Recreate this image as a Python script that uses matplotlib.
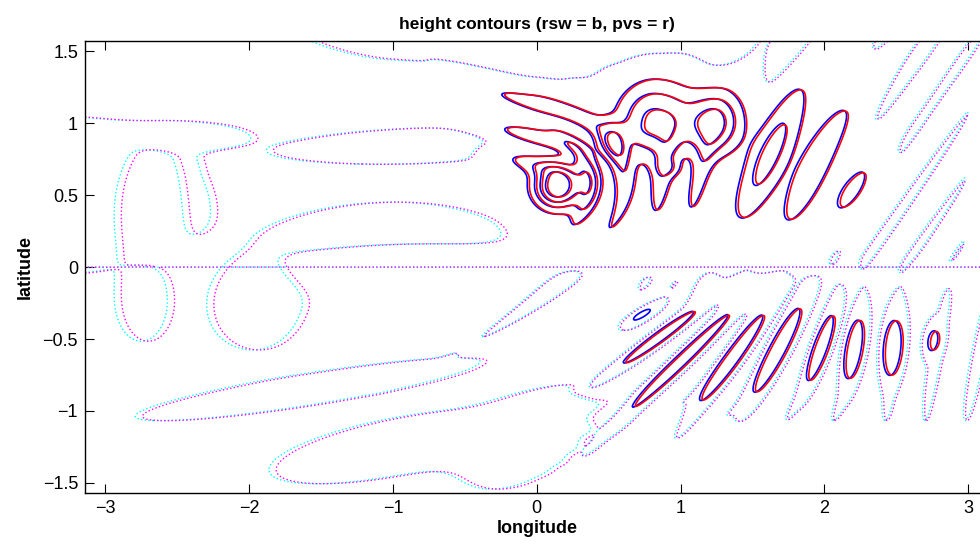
import numpy as np
import matplotlib
matplotlib.use("Agg")
import matplotlib.pyplot as plt

plt.rcParams['font.family'] = ['Liberation Sans', 'DejaVu Sans']

# ---------------- data ----------------
# positive lobes of the height field (solid contours): centre, axis angle, semi-axes, bend, profile power
ell_lon = [0.14, -0.03, 0.36, 0.00, 0.60, 0.535, 0.065,
           0.80, 0.86, 0.91, 1.22, 1.12, 1.61, 1.92, 2.19,
           0.73, 0.85, 0.98, 1.345, 1.67, 1.97, 2.20, 2.47, 2.75]
ell_lat = [0.56, 0.715, 0.60, 0.905, 0.63, 0.88, 1.115,
           1.02, 0.60, 0.69, 1.00, 0.60, 0.775, 0.69, 0.53,
           -0.33, -0.485, -0.67, -0.645, -0.575, -0.56, -0.57, -0.56, -0.51]
ell_ang = [0, -15, -85, -13, -82, -60, -16,
           80, 80, 80, 80, 75, 65, 64, 55,
           30, 36, 44, 54, 62, 70, 80, 85, 80]
ell_a = [0.16, 0.25, 0.30, 0.36, 0.50, 0.12, 0.50,
         0.27, 0.35, 0.06, 0.22, 0.33, 0.50, 0.63, 0.27,
         0.143, 0.43, 0.67, 0.50, 0.44, 0.315, 0.27, 0.25, 0.13]
ell_b = [0.15, 0.07, 0.08, 0.07, 0.08, 0.08, 0.065,
         0.24, 0.08, 0.09, 0.20, 0.07, 0.13, 0.15, 0.107,
         0.039, 0.048, 0.055, 0.065, 0.075, 0.064, 0.075, 0.083, 0.066]
ell_bend = [0, 0, -1.4, 0, -1.2, 0, 0,
            0, 0, 0, 0, 0, 0, 0, 0,
            0, 0, 0, 0, 0, 0, 0, 0, 0]
ell_pow = [1, 1, 1, 1, 1, 1, 1,
           1, 1, 1, 1, 1, 1, 1, 1,
           2, 2, 2, 2, 2, 2, 2, 2, 2]
amp_rsw = [5.0, 1.3, 2.3, 1.5, 1.6, 2.0, 1.4,
           3.15, 1.35, 0.8, 3.3, 1.3, 2.3, 1.4, 1.15,
           1.08, 1.32, 1.32, 1.37, 1.37, 1.37, 1.37, 1.37, 1.07]
amp_pvs = [5.0, 1.28, 2.25, 1.48, 1.58, 1.95, 1.38,
           3.1, 1.33, 0.8, 3.25, 1.28, 2.25, 1.38, 1.12,
           0.92, 1.30, 1.30, 1.35, 1.35, 1.35, 1.35, 1.35, 1.05]

# phase lines of the wave train (positions at reference latitude, cot of tilt)
nh_line_x = [-0.6, -0.3, 0.14, 0.36, 0.60, 0.85, 1.13, 1.56, 1.90, 2.25, 2.55, 2.85, 3.15, 3.45]
nh_line_cot = [-0.3, -0.3, -0.18, -0.18, -0.18, 0.09, 0.27, 0.47, 0.49, 0.70, 0.70, 0.70, 0.70, 0.70]
nh_ref_lat = 0.65
sh_line_x = [-1.0, -0.6, -0.25, 0.10, 0.40, 0.69, 1.05, 1.38, 1.66, 1.96, 2.19, 2.47, 2.77, 3.07, 3.37]
sh_line_cot = [3.5, 3.5, 3.0, 2.5, 1.8, 1.38, 1.04, 0.73, 0.53, 0.36, 0.18, 0.09, 0.18, 0.2, 0.2]
sh_ref_lat = -0.6
wave_amp = 0.55
nh_wave_mid, nh_wave_width = 2.2, 1.0
sh_wave_start = 0.75
sh_wave_lat, sh_wave_lat_width = -0.6, 0.6

# broad background structures (seen only through the zero contour)
bg_lon = [0.30, -3.35, -2.50, -2.75, -0.85, -1.00, -0.95, -1.98, -2.75, -1.60, -1.00, -0.10]
bg_lat = [1.62, 0.50, 0.92, 0.43, 0.845, 0.10, 0.00, -0.30, -0.27, -0.85, -1.25, -1.20]
bg_ang = [-2, 0, 0, 0, 2, 0, 0, 0, 0, 9, 11, 30]
bg_a = [1.82, 0.95, 0.38, 0.18, 0.85, 0.82, 0.60, 0.27, 0.15, 1.10, 0.80, 0.45]
bg_b = [0.29, 0.50, 0.07, 0.28, 0.11, 0.32, 0.17, 0.25, 0.22, 0.10, 0.18, 0.25]
bg_amp = [-1.0, -1.0, -1.0, 1.5, -1.0, -1.0, 1.6, -1.0, -1.0, -1.0, -1.0, -1.0]
bg_base = 0.3
bg_scale = 0.3
pvs_shift_bg = 0.05
pvs_shift_lobe = 0.015

solid_levels = [1, 2, 3, 4]
zero_level = [0]

x_ticks = [-3, -2, -1, 0, 1, 2, 3]
y_ticks = [-1.5, -1, -0.5, 0, 0.5, 1, 1.5]

# ---------------- field construction ----------------
lon = np.linspace(-np.pi, np.pi, 900)
lat = np.linspace(-np.pi / 2, np.pi / 2, 450)
X, Y = np.meshgrid(lon, lat)


def ellipse(x0, y0, ang, a, b, bend=0.0, p=1):
    t = np.deg2rad(ang)
    u = (X - x0) * np.cos(t) + (Y - y0) * np.sin(t)
    v = -(X - x0) * np.sin(t) + (Y - y0) * np.cos(t)
    v = v - bend * u ** 2
    return np.exp(-((u / a) ** 2 + (v / b) ** 2) ** p)


def wave(line_x, line_cot, ref_lat, dx):
    lx = np.asarray(line_x) + dx
    cot = np.interp(X, lx, line_cot)
    xr = X - cot * (Y - ref_lat)
    n = np.interp(xr, lx, np.arange(len(lx)))
    return np.cos(2 * np.pi * n)


def field(amp, dxl, dxb):
    F = np.full_like(X, bg_base)
    for i in range(len(bg_lon)):
        F += bg_amp[i] * ellipse(bg_lon[i] + dxb, bg_lat[i], bg_ang[i], bg_a[i], bg_b[i])
    w = 0.5 * (1 + np.tanh(Y / 0.08))
    eN = np.exp(-((X - nh_wave_mid) / nh_wave_width) ** 2)
    eS = (1 / (1 + np.exp(-(X - sh_wave_start) / 0.25))
          * np.exp(-((Y - sh_wave_lat) / sh_wave_lat_width) ** 2))
    W = wave_amp * (w * eN * wave(nh_line_x, nh_line_cot, nh_ref_lat, dxl)
                    - (1 - w) * eS * wave(sh_line_x, sh_line_cot, sh_ref_lat, dxl))
    h = bg_scale * np.sin(Y) * (F + W)
    lobes = np.zeros_like(X)
    for i in range(len(ell_lon)):
        lobes += amp[i] * ellipse(ell_lon[i] + dxl, ell_lat[i], ell_ang[i], ell_a[i], ell_b[i],
                                  ell_bend[i], ell_pow[i])
    return h + np.tanh(Y / 0.1) ** 4 * lobes


h_rsw = field(amp_rsw, 0.0, 0.0)
h_pvs = field(amp_pvs, pvs_shift_lobe, pvs_shift_bg)

# ---------------- plotting ----------------
fig = plt.figure(figsize=(9.8, 5.5), dpi=100)
ax = fig.add_axes([85 / 980, 57 / 550, 903.6 / 980, 451.8 / 550])

ax.contour(X, Y, h_rsw, levels=zero_level, colors=[(0, 1, 1)], linestyles=':', linewidths=1.0)
ax.contour(X, Y, h_pvs, levels=zero_level, colors=[(1, 0, 1)], linestyles=':', linewidths=1.0)
ax.contour(X, Y, h_rsw, levels=solid_levels, colors=[(0, 0, 1)], linestyles='-', linewidths=1.2)
ax.contour(X, Y, h_pvs, levels=solid_levels, colors=[(1, 0, 0)], linestyles='-', linewidths=1.2)

ax.set_xlim(-np.pi, np.pi)
ax.set_ylim(-np.pi / 2, np.pi / 2)
ax.set_xticks(x_ticks)
ax.set_yticks(y_ticks)
ax.set_yticklabels(['\u22121.5', '\u22121', '\u22120.5', '0', '0.5', '1', '1.5'])
ax.set_xticklabels(['\u22123', '\u22122', '\u22121', '0', '1', '2', '3'])
ax.tick_params(direction='in', length=6.5, width=0.8, top=True, right=True,
               labelsize=13, pad=5)
for s in ax.spines.values():
    s.set_linewidth(1.0)
ax.set_title('height contours (rsw = b, pvs = r)', fontsize=12.5, fontweight='bold', pad=9)
ax.set_xlabel('longitude', fontsize=13, fontweight='bold', labelpad=2)
ax.set_ylabel('latitude', fontsize=13, fontweight='bold', labelpad=6)

fig.savefig('out.png', dpi=100)
